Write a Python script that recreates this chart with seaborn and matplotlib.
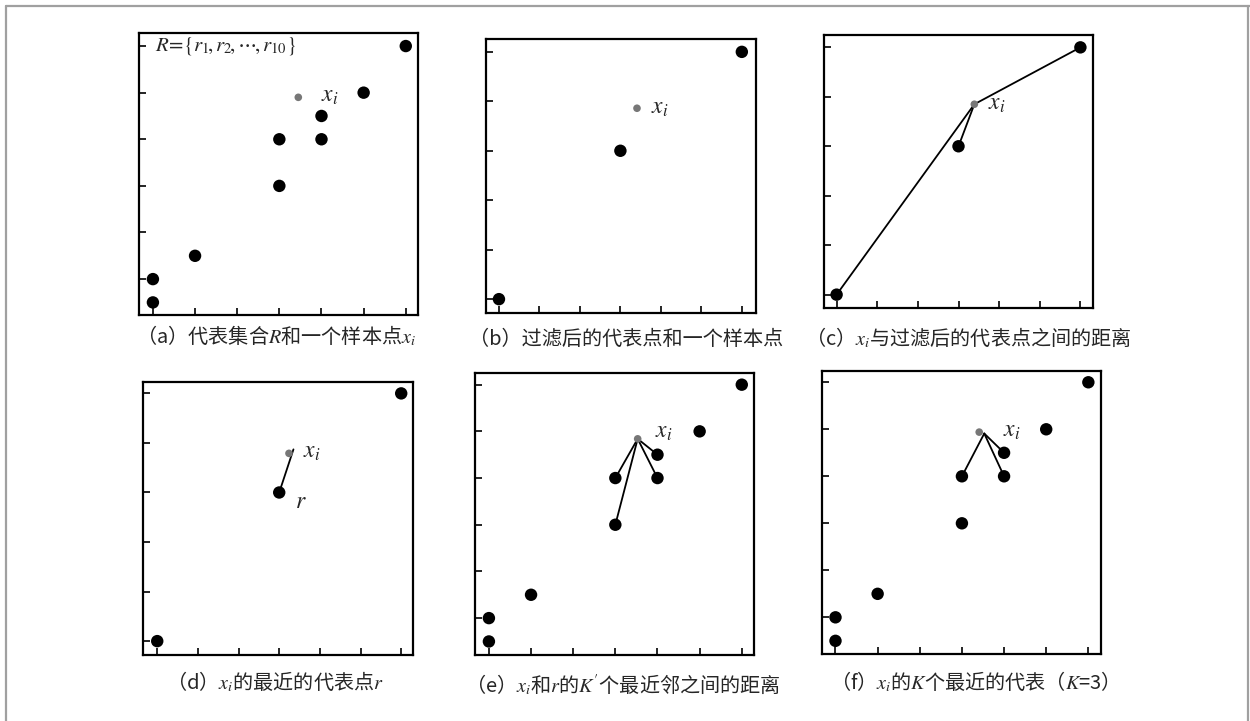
import numpy as np
import pandas as pd
import matplotlib
matplotlib.use("Agg")
import matplotlib.pyplot as plt
from matplotlib.lines import Line2D
import seaborn as sns

full_x = [0, 0, 1, 3, 3, 4, 4, 5, 6]
full_y = [0.5, 1, 1.5, 3, 4, 4, 4.5, 5, 6]
filt_x = [0, 3, 6]
filt_y = [1, 4, 6]

# sample point x_i as it sits in each panel
xi_pos = {
    "a": (3.45, 4.90),
    "b": (3.41, 4.86),
    "c": (3.39, 4.85),
    "d": (3.24, 4.79),
    "e": (3.53, 4.84),
    "f": (3.41, 4.94),
}
xi_label = {
    "a": (3.98, 4.93),
    "b": (3.75, 4.88),
    "c": (3.72, 4.86),
    "d": (3.58, 4.83),
    "e": (3.94, 5.00),
    "f": (3.98, 4.97),
}

# line endpoints
c_links_x = [0, 3, 6]
c_links_y = [1, 4, 6]
d_line_x = [3, 3.35]
d_line_y = [4, 4.87]
e_links_x = [3, 3, 4, 4]
e_links_y = [4, 3, 4, 4.5]
f_hub = (3.53, 4.91)
f_links_x = [3, 4, 4]
f_links_y = [4, 4, 4.5]

captions = {
    "a": "（a）代表集合$R$和一个样本点$x_i$",
    "b": "（b）过滤后的代表点和一个样本点",
    "c": "（c）$x_i$与过滤后的代表点之间的距离",
    "d": "（d）$x_i$的最近的代表点$r$",
    "e": "（e）$x_i$和$r$的$K'$个最近邻之间的距离",
    "f": "（f）$x_i$的$K$个最近的代表（$K$=3）",
}

sns.set_style("white")
plt.rcParams["font.family"] = ["Noto Sans CJK SC", "DejaVu Sans"]
plt.rcParams["mathtext.fontset"] = "stix"

W, H = 1250, 721
fig = plt.figure(figsize=(12.5, 7.21), dpi=100)

# axes boxes in pixels: left, top, right, bottom
boxes = {
    "a": (139, 33, 418, 315),
    "b": (486, 39, 756, 313),
    "c": (824, 35, 1093, 308),
    "d": (143, 382, 413, 655),
    "e": (475, 373, 754, 655),
    "f": (822, 371, 1101, 654),
}
lims = {
    "a": ((-0.33, 6.29), (0.23, 6.28)),
    "b": ((-0.32, 6.35), (0.72, 6.26)),
    "c": ((-0.31, 6.31), (0.73, 6.25)),
    "d": ((-0.35, 6.29), (0.72, 6.23)),
    "e": ((-0.33, 6.29), (0.21, 6.25)),
    "f": ((-0.32, 6.30), (0.22, 6.24)),
}
cap_pos = {
    "a": (276, 336), "b": (626, 339), "c": (968, 338),
    "d": (275, 682), "e": (623, 685), "f": (970, 682),
}

axes = {}
for k, (l, t, r, b) in boxes.items():
    ax = fig.add_axes([l / W, 1 - b / H, (r - l) / W, (b - t) / H])
    ax.set_xlim(*lims[k][0])
    ax.set_ylim(*lims[k][1])
    ax.set_xticks(range(0, 7))
    ax.set_yticks(range(1, 7))
    ax.set_xticklabels([])
    ax.set_yticklabels([])
    ax.tick_params(direction="in", length=5, width=1.2, color="black",
                   bottom=True, left=True)
    for s in ax.spines.values():
        s.set_visible(True)
        s.set_linewidth(1.6)
        s.set_color("black")
    axes[k] = ax

line_kw = dict(color="black", lw=1.3, zorder=1)
dot_kw = dict(color="black", s=80, edgecolor="none", zorder=3)
xi_kw = dict(color="#777777", s=30, edgecolor="none", zorder=4)

# (a)
ax = axes["a"]
sns.scatterplot(x=full_x, y=full_y, ax=ax, **dot_kw)
ax.text(0.05, 6.0, r"$R\!=\!\{r_1\!,r_2\!,\cdots\!,r_{10}\}$", fontsize=15, va="center")

# (b)
ax = axes["b"]
sns.scatterplot(x=filt_x, y=filt_y, ax=ax, **dot_kw)

# (c)
ax = axes["c"]
for x, y in zip(c_links_x, c_links_y):
    ax.plot([xi_pos["c"][0], x], [xi_pos["c"][1], y], **line_kw)
sns.scatterplot(x=filt_x, y=filt_y, ax=ax, **dot_kw)

# (d)
ax = axes["d"]
ax.plot(d_line_x, d_line_y, **line_kw)
sns.scatterplot(x=filt_x, y=filt_y, ax=ax, **dot_kw)
ax.text(3.38, 3.81, "$r$", fontsize=17, va="center")

# (e)
ax = axes["e"]
for x, y in zip(e_links_x, e_links_y):
    ax.plot([xi_pos["e"][0], x], [xi_pos["e"][1], y], **line_kw)
sns.scatterplot(x=full_x, y=full_y, ax=ax, **dot_kw)

# (f)
ax = axes["f"]
for x, y in zip(f_links_x, f_links_y):
    ax.plot([f_hub[0], x], [f_hub[1], y], **line_kw)
sns.scatterplot(x=full_x, y=full_y, ax=ax, **dot_kw)

for k, ax in axes.items():
    sns.scatterplot(x=[xi_pos[k][0]], y=[xi_pos[k][1]], ax=ax, **xi_kw)
    ax.text(*xi_label[k], "$x_i$", fontsize=17, va="center")
    cx, cy = cap_pos[k]
    fig.text(cx / W, 1 - cy / H, captions[k], fontsize=14.5, ha="center", va="center")

# light frame around the whole figure
frame_kw = dict(color="#a0a0a0", lw=1.6, transform=fig.transFigure)
fig.add_artist(Line2D([6 / W, 1], [1 - 6 / H, 1 - 6 / H], **frame_kw))
fig.add_artist(Line2D([6 / W, 6 / W], [0, 1 - 6 / H], **frame_kw))
fig.add_artist(Line2D([1248 / W, 1248 / W], [0, 1 - 6 / H], **frame_kw))

fig.savefig("out.png", dpi=100, facecolor="white")
